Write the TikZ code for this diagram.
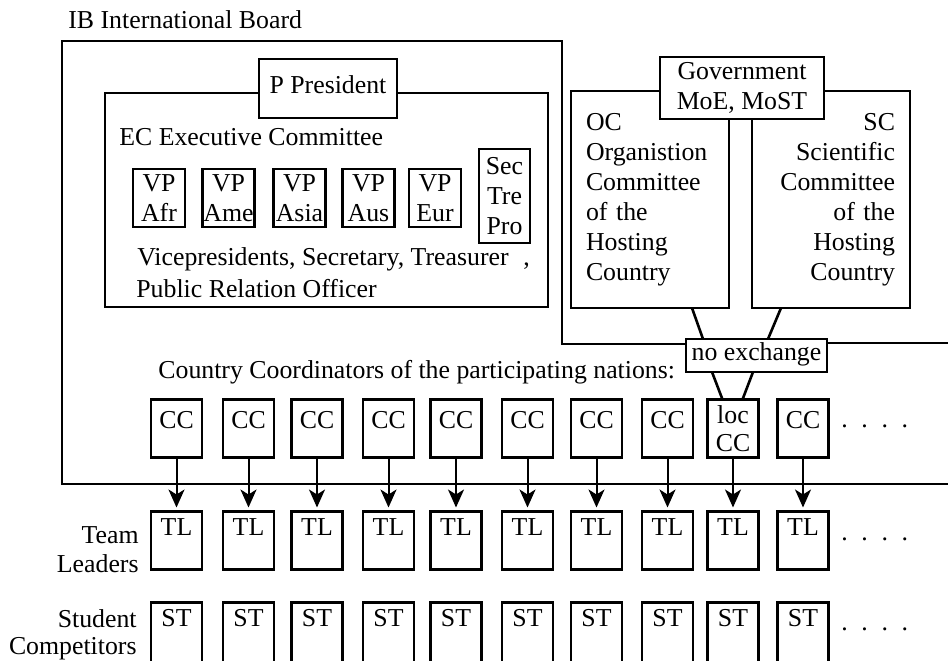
\documentclass[tikz,border=0pt]{standalone}
\usepackage{fontspec}
\setmainfont{Liberation Serif}
\usetikzlibrary{arrows.meta,positioning}

\tikzset{
  frame/.style={draw, line width=1.3pt, inner sep=0pt, outer sep=0pt},
  box/.style={frame, minimum width=25.5pt, minimum height=29pt},
  cbox/.style={box, text height=9pt, text depth=9pt},
  tbox/.style={box, text height=9pt, text depth=14pt},
  sbox/.style={box, minimum height=31pt, text height=9pt, text depth=16pt},
  vpbox/.style={box, minimum width=26pt, align=center},
  comm/.style={frame, minimum width=79pt, minimum height=108.5pt, text width=64pt, inner xsep=7.5pt},
  txt/.style={anchor=base west, inner sep=0pt},
}

\begin{document}
\begin{tikzpicture}[x=0.5pt, y=-0.5pt, >={Stealth[length=9pt,width=8pt,inset=2.5pt]},
    font=\fontsize{12.9}{15}\selectfont]
    \useasboundingbox (0,0) rectangle (948,660);

    % international board
    \node[txt] (ib) at (68,28) {IB International Board};
    \node[frame, minimum width=221.5pt, minimum height=107pt] (ec) at (326.5,200) {};
    \node[frame, fill=white, minimum width=69pt, minimum height=29.5pt, text height=8.8pt, text depth=4pt] (p) at (328,88.5) {P President};
    \node[txt] (ectext) at (119,145) {EC Executive Committee};
    \node[vpbox] (afr) at (159,198) {VP\\Afr};
    \node[vpbox] (ame) at (228.5,198) {VP\\Ame};
    \node[vpbox] (asia) at (299.5,198) {VP\\Asia};
    \node[vpbox] (aus) at (368.5,198) {VP\\Aus};
    \node[vpbox] (eur) at (435,198) {VP\\Eur};
    \node[box, minimum height=47pt, align=center] (sec) at (504.5,196) {Sec\\Tre\\Pro};
    \node[txt] (vp1) at (137,265) {Vicepresidents, Secretary, Treasurer};
    \node[txt] (comma) at (523,265) {,};
    \node[txt] (vp2) at (136,297) {Public Relation Officer};

    % hosting country
    \node[comm, align=left] (oc) at (650,199.5) {OC\\Organistion\\Committee\\of the\\Hosting\\Country};
    \node[comm, align=right] (sc) at (831,199.5) {SC\hspace*{4pt}\\Scientific\hspace*{4pt}\\Committee\\of the\\Hosting\\Country};
    \node[frame, fill=white, minimum width=82pt, minimum height=31pt, align=center] (gov) at (742,88) {Government\\MoE, MoST};
    \node[frame, fill=white, minimum width=70.5pt, minimum height=16.5pt, text height=8.8pt, text depth=3.5pt] (noex) at (756.5,355.5) {no exchange};

    \draw[line width=1.3pt] (noex.west |- 0,344) -- (562,344) -- (562,41) -- (62,41) -- (62,484) -- (950,484);
    \draw[line width=1.3pt] (noex.east |- 0,343) -- (950,343);

    % country coordinators
    \node[txt] (cctext) at (158,378) {Country Coordinators of the participating nations:};
    \node[cbox] (cc1) at (176.5,428.5) {CC};
    \node[cbox] (cc2) at (248.5,428.5) {CC};
    \node[cbox] (cc3) at (317,428.5) {CC};
    \node[cbox] (cc4) at (388.5,428.5) {CC};
    \node[cbox] (cc5) at (456,428.5) {CC};
    \node[cbox] (cc6) at (527.5,428.5) {CC};
    \node[cbox] (cc7) at (596.5,428.5) {CC};
    \node[cbox] (cc8) at (667.5,428.5) {CC};
    \node[box, align=center] (cc9) at (733,428.5) {loc\\[-1pt]CC};
    \node[cbox] (cc10) at (803,428.5) {CC};
    \node[txt] (dots1) at (841,427) {.\hspace{6.8pt}.\hspace{6.8pt}.\hspace{6.8pt}.};

    \draw[line width=1.3pt] ([xshift=-18.5pt]oc.south east) -- ([xshift=8.5pt]noex.north west);
    \draw[line width=1.3pt] ([xshift=14.5pt]sc.south west) -- ([xshift=-29.5pt]noex.north east);
    \draw[line width=1.3pt] ([xshift=13pt]noex.south west) -- ([xshift=7.5pt]cc9.north west);
    \draw[line width=1.3pt] ([xshift=33.5pt]noex.south west) -- ([xshift=-8pt]cc9.north east);

    % team leaders
    \node[tbox] (tl1) [below=27pt of cc1] {TL};
    \node[tbox] (tl2) [below=27pt of cc2] {TL};
    \node[tbox] (tl3) [below=27pt of cc3] {TL};
    \node[tbox] (tl4) [below=27pt of cc4] {TL};
    \node[tbox] (tl5) [below=27pt of cc5] {TL};
    \node[tbox] (tl6) [below=27pt of cc6] {TL};
    \node[tbox] (tl7) [below=27pt of cc7] {TL};
    \node[tbox] (tl8) [below=27pt of cc8] {TL};
    \node[tbox] (tl9) [below=27pt of cc9] {TL};
    \node[tbox] (tl10) [below=27pt of cc10] {TL};
    \node[align=right, inner sep=0pt, yshift=-4.5pt] (team) [left=6pt of tl1] {Team\\[-0.5pt]Leaders};
    \node[txt] (dots2) at (841,540) {.\hspace{6.8pt}.\hspace{6.8pt}.\hspace{6.8pt}.};

    \path[->, line width=1pt, shorten >=2pt]
        (cc1) edge (tl1) (cc2) edge (tl2) (cc3) edge (tl3) (cc4) edge (tl4) (cc5) edge (tl5)
        (cc6) edge (tl6) (cc7) edge (tl7) (cc8) edge (tl8) (cc9) edge (tl9) (cc10) edge (tl10);

    % student competitors
    \node[sbox] (st1) [below=16.5pt of tl1] {ST};
    \node[sbox] (st2) [below=16.5pt of tl2] {ST};
    \node[sbox] (st3) [below=16.5pt of tl3] {ST};
    \node[sbox] (st4) [below=16.5pt of tl4] {ST};
    \node[sbox] (st5) [below=16.5pt of tl5] {ST};
    \node[sbox] (st6) [below=16.5pt of tl6] {ST};
    \node[sbox] (st7) [below=16.5pt of tl7] {ST};
    \node[sbox] (st8) [below=16.5pt of tl8] {ST};
    \node[sbox] (st9) [below=16.5pt of tl9] {ST};
    \node[sbox] (st10) [below=16.5pt of tl10] {ST};
    \node[align=right, inner sep=0pt, yshift=-0.5pt] (students) [left=7pt of st1] {Student\\[-1.5pt]Competitors};
    \node[txt] (dots3) at (841,630) {.\hspace{6.8pt}.\hspace{6.8pt}.\hspace{6.8pt}.};
\end{tikzpicture}
\end{document}
